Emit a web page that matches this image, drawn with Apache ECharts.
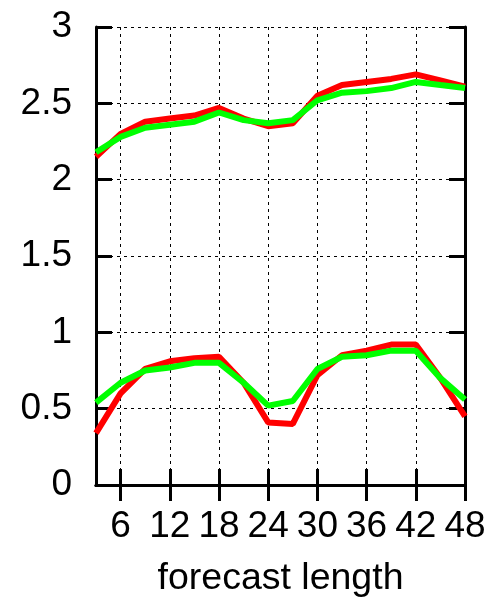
<!DOCTYPE html>
<html>
<head>
<meta charset="utf-8">
<script src="https://cdn.jsdelivr.net/npm/echarts@6/dist/echarts.min.js"></script>
<style>
  html, body { margin: 0; padding: 0; background: #fff; }
  #chart { width: 495px; height: 603px; }
</style>
</head>
<body>
<div id="chart"></div>
<script>
// forecast lead times (hours)
var leadTimes = ["3", "6", "9", "12", "15", "18", "21", "24", "27", "30", "33", "36", "39", "42", "45", "48"];

// upper pair of curves
var redUpper = [2.15, 2.30, 2.38, 2.40, 2.42, 2.47, 2.40, 2.35, 2.37, 2.55, 2.62, 2.64, 2.66, 2.69, 2.65, 2.61];
var greenUpper = [2.18, 2.28, 2.34, 2.36, 2.38, 2.44, 2.39, 2.37, 2.39, 2.52, 2.57, 2.58, 2.60, 2.64, 2.62, 2.60];

// lower pair of curves
var redLower = [0.34, 0.60, 0.76, 0.81, 0.83, 0.84, 0.67, 0.41, 0.40, 0.72, 0.85, 0.88, 0.92, 0.92, 0.70, 0.45];
var greenLower = [0.54, 0.67, 0.75, 0.77, 0.80, 0.80, 0.67, 0.52, 0.55, 0.76, 0.84, 0.85, 0.88, 0.88, 0.70, 0.56];

var font = "Liberation Sans";
var every6 = function (index, value) { return Number(value) % 6 === 0; };

var chart = echarts.init(document.getElementById("chart"));
var option = {
  animation: false,
  grid: { left: 96, right: 30, top: 27, bottom: 116 },
  xAxis: [
    {
      type: "category",
      data: leadTimes,
      boundaryGap: false,
      name: "forecast length",
      nameLocation: "middle",
      nameGap: 75,
      nameTextStyle: { color: "#000", fontFamily: font, fontSize: 37.5 },
      axisLine: { lineStyle: { color: "#000", width: 3 } },
      axisTick: { inside: true, length: 16, interval: every6, lineStyle: { color: "#000", width: 3 } },
      axisLabel: { interval: every6, margin: 23, color: "#000", fontFamily: font, fontSize: 37 },
      splitLine: { show: true, interval: every6, lineStyle: { color: "#000", width: 1, type: [3, 4] } }
    },
    {
      type: "category",
      data: leadTimes,
      boundaryGap: false,
      position: "top",
      axisLine: { lineStyle: { color: "#000", width: 3 } },
      axisTick: { inside: true, length: 16, interval: every6, lineStyle: { color: "#000", width: 3 } },
      axisLabel: { show: false },
      splitLine: { show: false }
    }
  ],
  yAxis: [
    {
      type: "value",
      min: 0,
      max: 3,
      interval: 0.5,
      axisLine: { show: true, lineStyle: { color: "#000", width: 3 } },
      axisTick: { show: true, inside: true, length: 16, lineStyle: { color: "#000", width: 3 } },
      axisLabel: { margin: 24, color: "#000", fontFamily: font, fontSize: 37 },
      splitLine: { show: true, lineStyle: { color: "#000", width: 1, type: [3, 4] } }
    },
    {
      type: "value",
      min: 0,
      max: 3,
      interval: 0.5,
      position: "right",
      axisLine: { show: true, lineStyle: { color: "#000", width: 3 } },
      axisTick: { show: true, inside: true, length: 16, lineStyle: { color: "#000", width: 3 } },
      axisLabel: { show: false },
      splitLine: { show: false }
    }
  ],
  series: [
    { type: "line", data: redUpper, showSymbol: false, lineStyle: { color: "#ff0000", width: 6 } },
    { type: "line", data: redLower, showSymbol: false, lineStyle: { color: "#ff0000", width: 6 } },
    { type: "line", data: greenUpper, showSymbol: false, lineStyle: { color: "#00ff00", width: 6 } },
    { type: "line", data: greenLower, showSymbol: false, lineStyle: { color: "#00ff00", width: 6 } }
  ]
};
chart.setOption(option);
</script>
</body>
</html>
